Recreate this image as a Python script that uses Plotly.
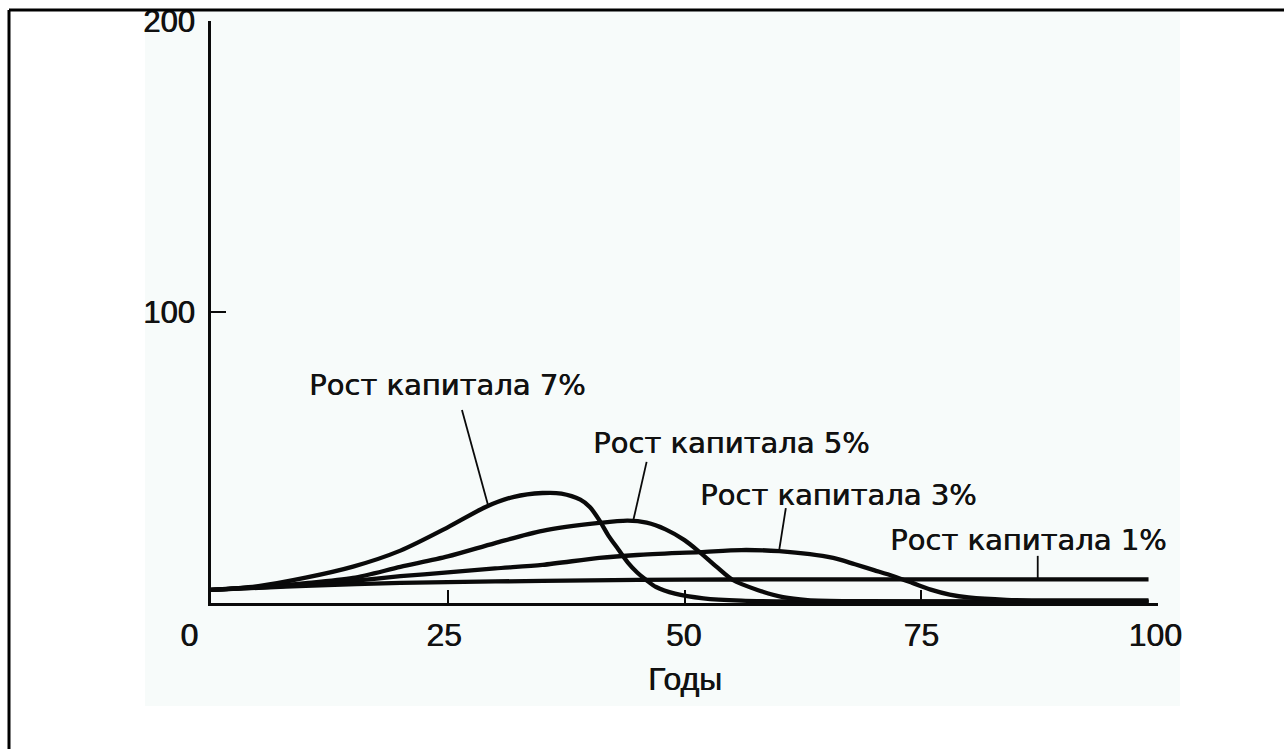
import plotly.graph_objects as go

# ---- data -------------------------------------------------------------
years_7 = [0, 5, 10, 15, 20, 25, 29, 32, 35, 37, 39, 40, 41, 42, 43, 44, 45, 46, 47, 49, 52, 56, 62, 75, 99]
capital_7 = [4.5, 5.8, 8.7, 12.5, 18, 26, 33, 36.5, 37.8, 37.6, 35.5, 33, 28.5, 23, 18.5, 14, 10.5, 7.8, 5.5, 3.2, 1.6, 0.8, 0.5, 0.4, 0.4]

years_5 = [0, 5, 10, 15, 20, 25, 30, 35, 41, 44, 46, 48, 50, 51.6, 53.4, 55.1, 57.7, 60.4, 63, 68, 99]
capital_5 = [4.5, 5.5, 6.8, 8.6, 12.4, 16, 20.6, 24.8, 27.5, 28.3, 27.6, 25.3, 21.6, 17.5, 12.4, 7.9, 4.5, 2.0, 1.0, 0.6, 0.5]

years_3 = [0, 5, 10, 15, 20, 25, 30, 35, 41, 45, 51.6, 56, 60, 65.7, 68, 70, 72, 74, 76, 78, 80, 84, 90, 99]
capital_3 = [4.5, 5.3, 6.3, 7.6, 9.2, 10.5, 11.9, 13.1, 15.5, 16.5, 17.5, 18.2, 17.8, 15.5, 13.3, 11.3, 9.3, 7.0, 4.6, 2.9, 1.9, 1.1, 0.9, 0.9]

years_1 = [0, 5, 10, 20, 30, 40, 50, 60, 80, 99]
capital_1 = [4.5, 5.2, 5.9, 6.9, 7.4, 7.8, 8.0, 8.1, 8.1, 8.1]

series_years = [years_7, years_5, years_3, years_1]
series_values = [capital_7, capital_5, capital_3, capital_1]

curve_labels = ["Рост капитала 7%", "Рост капитала 5%", "Рост капитала 3%", "Рост капитала 1%"]
label_x = [25.0, 55.0, 66.3, 86.3]
label_y = [74.9, 55.0, 37.1, 21.6]
# leader line: from (start) near the label to (end) on the curve
leader_x = [[26.5, 29.25], [46.0, 44.6], [60.7, 60.0], [87.3, 87.3]]
leader_y = [[66.3, 33.7], [48.5, 28.5], [32.6, 18.2], [16.2, 8.6]]

x_tick_vals = [25, 50, 75]
x_label_pos = [-2.3, 24.6, 49.9, 75.0, 99.7]
x_label_text = ["0", "25", "50", "75", "100"]
y_tick_vals = [100, 200]
y_tick_text = ["100", "200"]
x_title = "Годы"

# ---- layout geometry (pixels) ----------------------------------------
W, H = 1284, 749
X0_PX, X100_PX = 211, 1158
Y0_PX, Y200_PX = 603, 21
PX_PER_YEAR = (X100_PX - X0_PX) / 100.0

def px_x(p):
    return p / W

def px_y(p):
    return 1 - p / H

INK = "#0a0a0a"
TEXT = "#111111"
FONT = "Liberation Sans, Arial, sans-serif"
LABEL_FONT = "DejaVu Sans, Liberation Sans, sans-serif"
HEAVY = "0.6px 0px 0px #111111"   # slightly heavier strokes for printed-look text
BG = "#f7fbfa"

fig = go.Figure()

for yrs, vals in zip(series_years, series_values):
    fig.add_trace(go.Scatter(
        x=yrs, y=vals, mode="lines",
        line=dict(color=INK, width=4.3, shape="spline", smoothing=0.8),
        showlegend=False, hoverinfo="skip", cliponaxis=False,
    ))

for lx, ly in zip(leader_x, leader_y):
    fig.add_trace(go.Scatter(
        x=lx, y=ly, mode="lines",
        line=dict(color=INK, width=1.8),
        showlegend=False, hoverinfo="skip", cliponaxis=False,
    ))

# carrier for the label-only axis
fig.add_trace(go.Scatter(x=[None], y=[None], xaxis="x2", yaxis="y",
                         showlegend=False, hoverinfo="skip"))

for txt, lx, ly in zip(curve_labels, label_x, label_y):
    fig.add_annotation(
        x=lx, y=ly, xref="x", yref="y", text=txt, showarrow=False,
        xanchor="center", yanchor="middle",
        font=dict(family=LABEL_FONT, size=29, color=TEXT, shadow=HEAVY),
    )

fig.add_annotation(
    x=50, y=px_y(679), xref="x", yref="paper", text=x_title, showarrow=False,
    xanchor="center", yanchor="middle",
    font=dict(family=FONT, size=32, color=TEXT, shadow=HEAVY),
)

pad = 5
fig.update_layout(
    width=W, height=H,
    margin=dict(l=0, r=0, t=0, b=0, autoexpand=False),
    paper_bgcolor="white",
    plot_bgcolor="rgba(0,0,0,0)",
    xaxis=dict(
        domain=[px_x(X0_PX), px_x(X100_PX)], range=[0, 100], automargin=False,
        showline=True, linecolor=INK, linewidth=3,
        ticks="inside", tickvals=x_tick_vals, ticklen=13, tickwidth=1.6, tickcolor=INK,
        showticklabels=False, showgrid=False, zeroline=False, fixedrange=True,
    ),
    xaxis2=dict(
        domain=[px_x(X0_PX - pad * PX_PER_YEAR), px_x(X100_PX + pad * PX_PER_YEAR)],
        range=[-pad, 100 + pad], anchor="y", automargin=False,
        showline=False, ticks="", tickvals=x_label_pos, ticktext=x_label_text,
        tickfont=dict(family=FONT, size=32, color=TEXT, shadow=HEAVY),
        ticklabelstandoff=10,
        showgrid=False, zeroline=False, fixedrange=True,
    ),
    yaxis=dict(
        domain=[px_y(Y0_PX), px_y(Y200_PX)], range=[0, 200], anchor="x", automargin=False,
        showline=True, linecolor=INK, linewidth=3,
        ticks="inside", tickvals=y_tick_vals, ticktext=y_tick_text,
        ticklen=15, tickwidth=2, tickcolor=INK,
        tickfont=dict(family=FONT, size=31, color=TEXT, shadow=HEAVY),
        ticklabelstandoff=7,
        showgrid=False, zeroline=False, fixedrange=True,
    ),
    shapes=[
        dict(type="rect", xref="paper", yref="paper",
             x0=px_x(145), x1=px_x(1180), y0=px_y(706), y1=px_y(11),
             fillcolor=BG, line=dict(width=0), layer="below"),
        dict(type="line", xref="paper", yref="paper",
             x0=px_x(9), x1=1.0, y0=px_y(10), y1=px_y(10),
             line=dict(color="black", width=3), layer="above"),
        dict(type="line", xref="paper", yref="paper",
             x0=px_x(9), x1=px_x(9), y0=px_y(10), y1=0.0,
             line=dict(color="black", width=3), layer="above"),
    ],
)

fig.write_html("out.html")
